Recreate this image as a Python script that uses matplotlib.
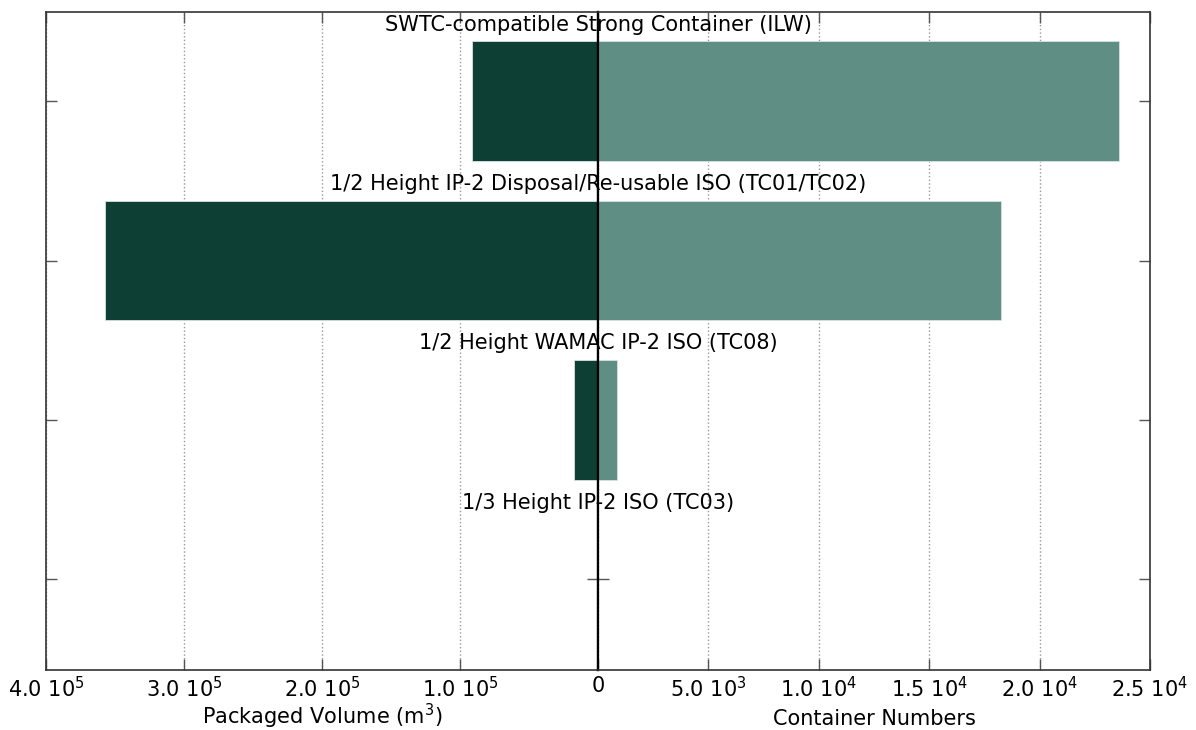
import matplotlib
matplotlib.use('Agg')
import matplotlib.pyplot as plt
import numpy as np

# container types, top to bottom
containers = ['SWTC-compatible Strong Container (ILW)',
              '1/2 Height IP-2 Disposal/Re-usable ISO (TC01/TC02)',
              '1/2 Height WAMAC IP-2 ISO (TC08)',
              '1/3 Height IP-2 ISO (TC03)']
volume = [91300, 357000, 17400, 0]       # packaged volume (m3)
numbers = [23600, 18250, 860, 0]         # container numbers

vol_ticks = [4e5, 3e5, 2e5, 1e5]
vol_labels = [r'4.0 $10^5$', r'3.0 $10^5$', r'2.0 $10^5$', r'1.0 $10^5$']
num_ticks = [0, 5e3, 1e4, 1.5e4, 2e4, 2.5e4]
num_labels = ['0', r'5.0 $10^3$', r'1.0 $10^4$', r'1.5 $10^4$', r'2.0 $10^4$', r'2.5 $10^4$']

dark = '#0d3f34'
light = '#5f8f84'

fig = plt.figure(figsize=(11.96, 7.30), dpi=100, facecolor='white')
ax1 = fig.add_axes([0.0385, 0.0822, 0.4615, 0.9014])
ax2 = fig.add_axes([0.5, 0.0822, 0.4615, 0.9014])

y = np.arange(len(containers))

ax1.barh(y, volume, height=0.75, color=dark, edgecolor='#d8e2df', linewidth=0.6)
ax2.barh(y, numbers, height=0.75, color=light, edgecolor='#d8e2df', linewidth=0.6)

ax1.set_xlim(4e5, 0)
ax2.set_xlim(0, 2.5e4)
for ax in (ax1, ax2):
    ax.set_ylim(3.57, -0.56)
    ax.set_yticks(y)
    ax.set_yticklabels([])
    ax.tick_params(axis='both', direction='in', length=8, width=1, color='#555555',
                   top=True, bottom=True, left=True, right=True, labelsize=15, pad=4)
    ax.xaxis.grid(True, linestyle=':', color='#999999', linewidth=1)
    ax.set_axisbelow(True)
    for s in ax.spines.values():
        s.set_color('#333333')
        s.set_linewidth(1.2)

ax1.set_xticks(vol_ticks)
ax1.set_xticklabels(vol_labels)
ax2.set_xticks(num_ticks)
ax2.set_xticklabels(num_labels)

ax1.spines['right'].set_color('black')
ax1.spines['right'].set_linewidth(1.6)
ax2.spines['left'].set_color('black')
ax2.spines['left'].set_linewidth(1.6)

ax1.set_xlabel(r'Packaged Volume (m$^3$)', fontsize=15, labelpad=1)
ax2.set_xlabel('Container Numbers', fontsize=15, labelpad=6)

# category names sit above each bar pair, centred on the zero line
for i, name in enumerate(containers):
    ax2.text(0, i - 0.48, name, ha='center', va='center', fontsize=15, zorder=5)

fig.savefig('out.png', dpi=100, facecolor='white')
